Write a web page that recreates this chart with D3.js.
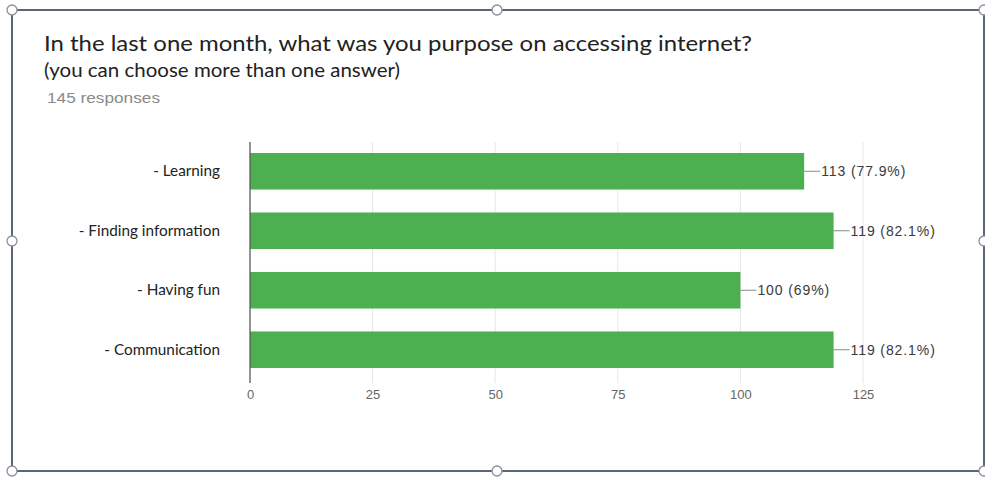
<!DOCTYPE html>
<html><head><meta charset="utf-8">
<script src="https://cdn.jsdelivr.net/npm/d3@7"></script>
<style>body{margin:0;background:#fff;} svg{display:block;}</style>
</head><body>
<svg id="c" width="985" height="479"></svg>
<script>
const categories = ["- Learning", "- Finding information", "- Having fun", "- Communication"];
const counts = [113, 119, 100, 119];
const percents = ["77.9%", "82.1%", "69%", "82.1%"];
const xTicks = [0, 25, 50, 75, 100, 125];
const titleText = "In the last one month, what was you purpose on accessing internet?";
const subtitleText = "(you can choose more than one answer)";
const responsesText = "145 responses";

const svg = d3.select("#c");
const W = 985, H = 479;

svg.append("rect").attr("width", W).attr("height", H).attr("fill", "#fff");

// titles
svg.append("text").attr("x", 44).attr("y", 51)
  .attr("font-family", "Lato, 'Open Sans', sans-serif").attr("font-size", 22)
  .attr("textLength", 708).attr("lengthAdjust", "spacingAndGlyphs")
  .attr("fill", "#222").text(titleText);
svg.append("text").attr("x", 44).attr("y", 77)
  .attr("font-family", "Lato, 'Open Sans', sans-serif").attr("font-size", 18.5)
  .attr("textLength", 356).attr("lengthAdjust", "spacingAndGlyphs")
  .attr("fill", "#222").text(subtitleText);
svg.append("text").attr("x", 47).attr("y", 103)
  .attr("font-family", "'Liberation Sans', Arial, sans-serif").attr("font-size", 14.5)
  .attr("textLength", 113).attr("lengthAdjust", "spacingAndGlyphs")
  .attr("fill", "#8a8a8a").text(responsesText);

const x = d3.scaleLinear().domain([0, 125]).range([250, 863]);
const y = d3.scaleBand().domain(categories).range([153, 368]).paddingInner(0.386).paddingOuter(0);

// gridlines
svg.append("g").selectAll("line").data(xTicks).join("line")
  .attr("x1", d => x(d)).attr("x2", d => x(d))
  .attr("y1", 142).attr("y2", 383)
  .attr("stroke", "#e6e6e6").attr("stroke-width", 1);

// bars
svg.append("g").selectAll("rect").data(categories).join("rect")
  .attr("x", x(0)).attr("y", c => y(c))
  .attr("width", (c, i) => x(counts[i]) - x(0))
  .attr("height", y.bandwidth())
  .attr("fill", "#4caf50");

// left axis line
svg.append("line").attr("x1", x(0)).attr("x2", x(0)).attr("y1", 142).attr("y2", 383)
  .attr("stroke", "#555").attr("stroke-width", 1.2);

// x axis tick labels
const xAxis = d3.axisBottom(x).tickValues(xTicks).tickSize(0).tickPadding(0);
const gx = svg.append("g").attr("transform", "translate(0,390)").call(xAxis);
gx.select(".domain").remove();
gx.selectAll("text").attr("font-family", "'Liberation Sans', Arial, sans-serif")
  .attr("font-size", 13).attr("fill", "#666");

// y labels
const yAxis = d3.axisLeft(y).tickSize(0).tickPadding(0);
const gy = svg.append("g").attr("transform", "translate(220,0)").call(yAxis);
gy.select(".domain").remove();
gy.selectAll("text").attr("font-family", "Lato, 'Open Sans', sans-serif")
  .attr("font-size", 15.3).attr("fill", "#222");

// value labels with leader lines
const lab = svg.append("g").selectAll("g").data(categories).join("g");
lab.append("line")
  .attr("x1", (c, i) => x(counts[i])).attr("x2", (c, i) => x(counts[i]) + 16)
  .attr("y1", c => y(c) + y.bandwidth() / 2).attr("y2", c => y(c) + y.bandwidth() / 2)
  .attr("stroke", "#888").attr("stroke-width", 1);
lab.append("text")
  .attr("x", (c, i) => x(counts[i]) + 17)
  .attr("y", c => y(c) + y.bandwidth() / 2).attr("dy", "0.35em")
  .attr("font-family", "'Liberation Sans', Arial, sans-serif").attr("font-size", 14)
  .attr("letter-spacing", 0.9)
  .attr("fill", "#3a3a3a")
  .text((c, i) => `${counts[i]} (${percents[i]})`);

// selection frame (image border with handles)
const frame = svg.append("g");
frame.append("rect").attr("x", 12).attr("y", 10).attr("width", 972).attr("height", 461)
  .attr("fill", "none").attr("stroke", "#5b6678").attr("stroke-width", 2);
const handles = [[12,10],[497,10],[984,10],[12,241],[984,241],[12,471],[497,471],[984,471]];
frame.selectAll("circle").data(handles).join("circle")
  .attr("cx", d => d[0]).attr("cy", d => d[1]).attr("r", 5)
  .attr("fill", "#fff").attr("stroke", "#8a8f99").attr("stroke-width", 1.3);
</script>
</body></html>
